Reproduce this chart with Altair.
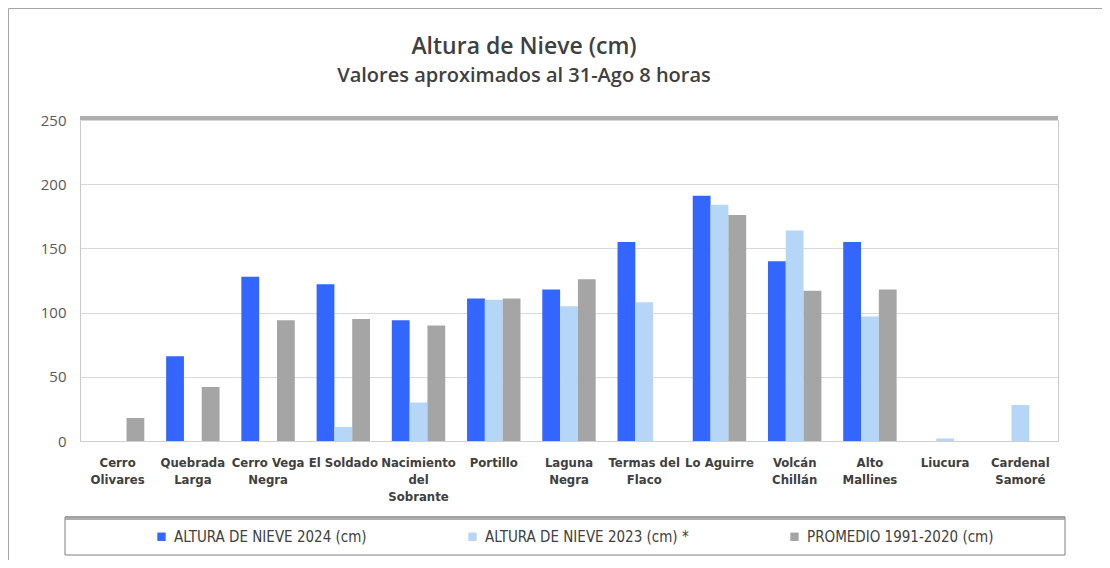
import altair as alt
import pandas as pd

categories = ["Cerro Olivares", "Quebrada Larga", "Cerro Vega Negra", "El Soldado",
              "Nacimiento del Sobrante", "Portillo", "Laguna Negra", "Termas del Flaco",
              "Lo Aguirre", "Volcán Chillán", "Alto Mallines", "Liucura", "Cardenal Samoré"]
label_lines = [["Cerro", "Olivares"], ["Quebrada", "Larga"], ["Cerro Vega", "Negra"], ["El Soldado"],
               ["Nacimiento", "del", "Sobrante"], ["Portillo"], ["Laguna", "Negra"], ["Termas del", "Flaco"],
               ["Lo Aguirre"], ["Volcán", "Chillán"], ["Alto", "Mallines"], ["Liucura"], ["Cardenal", "Samoré"]]
series = ["ALTURA DE NIEVE 2024 (cm)", "ALTURA DE NIEVE 2023 (cm) *", "PROMEDIO 1991-2020 (cm)"]
colors = ["#3366FF", "#B6D6F8", "#A5A5A5"]

v2024 = [None, 66, 128, 122, 94, 111, 118, 155, 191, 140, 155, None, None]
v2023 = [None, None, None, 11, 30, 110, 105, 108, 184, 164, 97, 2, 28]
prom = [18, 42, 94, 95, 90, 111, 126, None, 176, 117, 118, None, None]

rows = []
for i, c in enumerate(categories):
    for s, vals in zip(series, [v2024, v2023, prom]):
        if vals[i] is not None:
            rows.append({"Estación": c, "Serie": s, "Valor": vals[i]})
df = pd.DataFrame(rows)

def js_list(lst):
    return "[" + ",".join("'" + t + "'" for t in lst) + "]"

label_expr = ""
for c, ll in zip(categories, label_lines):
    label_expr += f"datum.label == '{c}' ? {js_list(ll)} : "
label_expr += "datum.label"

one = pd.DataFrame({"k": [0]})

outer = alt.Chart(one).mark_rect(fill=None, stroke="#A6A6A6", strokeWidth=1).encode(
    x=alt.value(-71.5), x2=alt.value(1100), y=alt.value(-111.5), y2=alt.value(700))

legend_box = alt.Chart(one).mark_rect(fill=None, stroke="#7F7F7F", strokeWidth=1).encode(
    x=alt.value(-15), x2=alt.value(985), y=alt.value(397), y2=alt.value(435))
legend_shadow = alt.Chart(one).mark_rule(stroke="#9A9A9A", strokeWidth=4, opacity=0.8).encode(
    x=alt.value(-15), x2=alt.value(985), y=alt.value(398))

top_shadow = alt.Chart(one).mark_rule(stroke="#9A9A9A", strokeWidth=4, opacity=0.8).encode(
    x=alt.value(0), x2=alt.value(978), y=alt.value(-2))

label_font = "DejaVu Sans Condensed"

bars = alt.Chart(df).mark_bar().encode(
    x=alt.X("Estación:N", sort=categories,
            scale=alt.Scale(domain=categories, paddingInner=0.29, paddingOuter=0.145),
            axis=alt.Axis(title=None, labelAngle=0, labelExpr=label_expr, ticks=False,
                          domainColor="#D0D0D0", labelFont=label_font, labelFontSize=13,
                          labelFontWeight="bold", labelColor="#404040", labelPadding=15,
                          labelLineHeight=17, labelLimit=200)),
    xOffset=alt.XOffset("Serie:N", sort=series, scale=alt.Scale(domain=series, paddingInner=0, paddingOuter=0)),
    y=alt.Y("Valor:Q", scale=alt.Scale(domain=[0, 250]),
            axis=alt.Axis(title=None, values=[0, 50, 100, 150, 200, 250], domain=False, ticks=False,
                          gridColor="#D9D9D9", labelFont="Open Sans", labelFontSize=15,
                          labelColor="#595959", labelPadding=14)),
    color=alt.Color("Serie:N", sort=series, scale=alt.Scale(domain=series, range=colors),
                    legend=alt.Legend(title=None, orient="none", legendX=74, legendY=409,
                                      direction="horizontal", columns=3, columnPadding=98,
                                      symbolType="square", symbolSize=70, symbolStrokeWidth=0,
                                      labelFont=label_font, labelFontSize=15, labelColor="#404040",
                                      labelLimit=400, labelOffset=5, padding=0)),
)

chart = alt.layer(outer, legend_box, legend_shadow, bars, top_shadow).properties(
    width=978, height=321,
    autosize=alt.AutoSizeParams(type="none"),
    padding={"left": 72, "top": 112, "right": 44, "bottom": 119},
    title=alt.Title("Altura de Nieve (cm)",
                    subtitle="Valores aproximados  al 31-Ago 8 horas",
                    anchor="middle", dx=-45, offset=-78,
                    font="Open Sans", fontSize=23, fontWeight=600, color="#404040",
                    subtitleFont="Open Sans", subtitleFontSize=20, subtitleFontWeight=600,
                    subtitleColor="#404040", subtitlePadding=7),
).configure_view(stroke="#C8C8C8", strokeWidth=1)

chart.save("out.html", embed_options={"renderer": "svg", "actions": False})
